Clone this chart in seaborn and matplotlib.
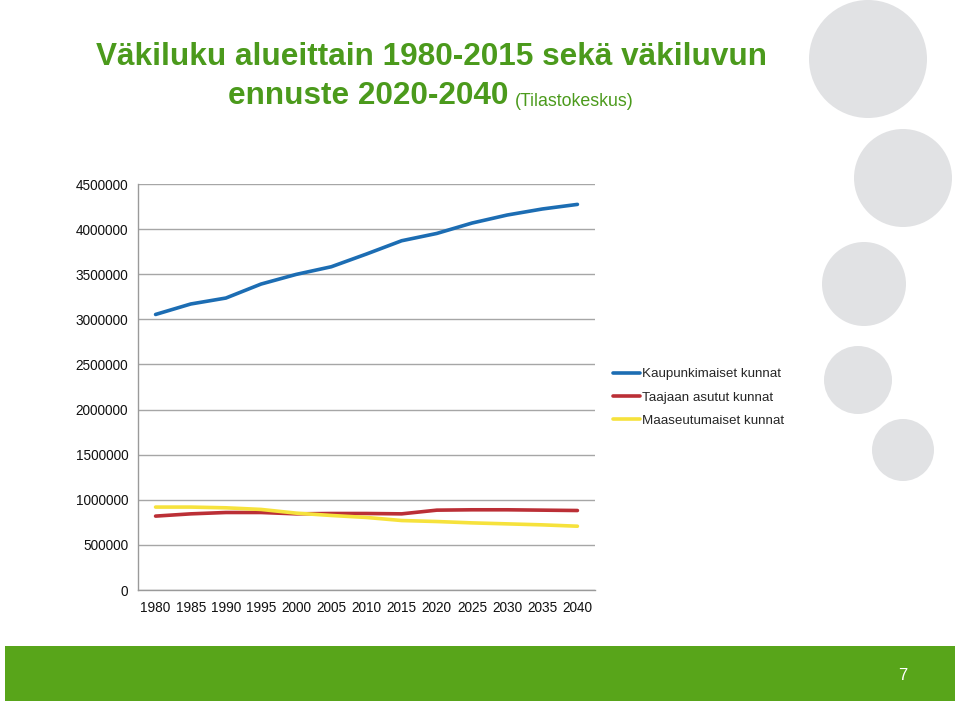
import numpy as np
import pandas as pd
import matplotlib
matplotlib.use("Agg")
import matplotlib.pyplot as plt
from matplotlib.patches import Circle, Rectangle
from matplotlib import font_manager
import seaborn as sns

# ---- data ----
years = ["1980", "1985", "1990", "1995", "2000", "2005", "2010",
         "2015", "2020", "2025", "2030", "2035", "2040"]
kaupunki = [3054000, 3170000, 3236000, 3391000, 3498000, 3583000, 3724000,
            3871000, 3952000, 4067000, 4156000, 4223000, 4274000]
taajaan = [819000, 844000, 859000, 859000, 844000, 848000, 848000,
           844000, 885000, 889000, 889000, 885000, 881000]
maaseutu = [919000, 919000, 911000, 893000, 852000, 826000, 804000,
            770000, 759000, 744000, 733000, 722000, 707000]
series_names = ["Kaupunkimaiset kunnat", "Taajaan asutut kunnat", "Maaseutumaiset kunnat"]
y_ticks = [0, 500000, 1000000, 1500000, 2000000, 2500000, 3000000, 3500000, 4000000, 4500000]
y_labels = [str(v) for v in y_ticks]
title_line1 = "Väkiluku alueittain 1980-2015 sekä väkiluvun"
title_line2 = "ennuste 2020-2040"
title_source = "(Tilastokeskus)"
page_no = "7"

df = pd.DataFrame({
    "Vuosi": years * 3,
    "Väkiluku": kaupunki + taajaan + maaseutu,
    "Alue": [series_names[0]] * 13 + [series_names[1]] * 13 + [series_names[2]] * 13,
})

sns.set_theme(style="white")
avail = {f.name for f in font_manager.fontManager.ttflist}
narrow = "Liberation Sans Narrow" if "Liberation Sans Narrow" in avail else "Liberation Sans"
plt.rcParams["font.family"] = ["Liberation Sans", "DejaVu Sans"]

W, H = 960, 703
fig = plt.figure(figsize=(W / 100, H / 100), dpi=100)
fig.patch.set_facecolor("white")

# background decoration axes in pixel coordinates
bg = fig.add_axes([0, 0, 1, 1], zorder=-5)
bg.set_xlim(0, W)
bg.set_ylim(H, 0)
bg.axis("off")
circ_col = "#e1e2e4"
for (cx, cy, r) in [(868, 59, 59), (903, 178, 49), (864, 284, 42), (858, 380, 34), (903, 450, 31)]:
    bg.add_patch(Circle((cx, cy), r, color=circ_col, lw=0))
bg.add_patch(Rectangle((5, 646), 950, 55, color="#58a51a", lw=0))
bg.text(903, 676, page_no, color="white", fontsize=12, ha="center", va="center",
        family=[narrow, "DejaVu Sans"])

green = "#4b9a1c"
bg.text(432, 57, title_line1, color=green, fontsize=22.7, fontweight="bold",
        ha="center", va="center", family=[narrow, "DejaVu Sans"])
t2 = bg.text(228, 96, title_line2, color=green, fontsize=22.7, fontweight="bold",
             ha="left", va="center", family=[narrow, "DejaVu Sans"])
fig.canvas.draw()
bb = t2.get_window_extent()
x_end = bb.x1 + 7
bg.text(x_end, 101, title_source, color=green, fontsize=12.8,
        ha="left", va="center", family=[narrow, "DejaVu Sans"])

# main chart
left, right, top, bottom = 138, 595, 184, 590
ax = fig.add_axes([left / W, 1 - bottom / H, (right - left) / W, (bottom - top) / H])
palette = ["#1c6db3", "#bb2f36", "#f6e23c"]
sns.lineplot(data=df, x="Vuosi", y="Väkiluku", hue="Alue", palette=palette,
             linewidth=2.6, ax=ax, legend=True, sort=False)
ax.set_xlim(-0.5, len(years) - 0.5)
ax.set_ylim(0, 4500000)
ax.set_yticks(y_ticks)
ax.set_yticklabels(y_labels)
ax.set_xlabel("")
ax.set_ylabel("")
ax.grid(axis="y", color="#a6a6a6", linewidth=1)
ax.grid(axis="x", visible=False)
for s in ["top", "right"]:
    ax.spines[s].set_visible(False)
for s in ["left", "bottom"]:
    ax.spines[s].set_color("#9a9a9a")
    ax.spines[s].set_linewidth(1)
ax.set_xticks(np.arange(-0.5, len(years), 1.0), minor=True)
ax.tick_params(axis="x", which="major", length=0, labelsize=9.8, pad=8, colors="#111111")
ax.tick_params(axis="x", which="minor", length=5, color="#9a9a9a", width=1, direction="out")
ax.tick_params(axis="y", which="major", length=5, color="#9a9a9a", width=1, direction="out",
               labelsize=9.8, pad=2, colors="#111111")
ax.tick_params(axis="y", labelcolor="#111111")
ax.tick_params(axis="x", labelcolor="#111111")

handles, labels = ax.get_legend_handles_labels()
ax.get_legend().remove()
fig.legend(handles, labels, loc="upper left", bbox_to_anchor=(613 / W, 1 - 368 / H),
           frameon=False, fontsize=9.6, handlelength=2.0, handletextpad=0.15,
           labelspacing=0.82, borderpad=0, borderaxespad=0)

fig.savefig("out.png", dpi=100, facecolor="white")
